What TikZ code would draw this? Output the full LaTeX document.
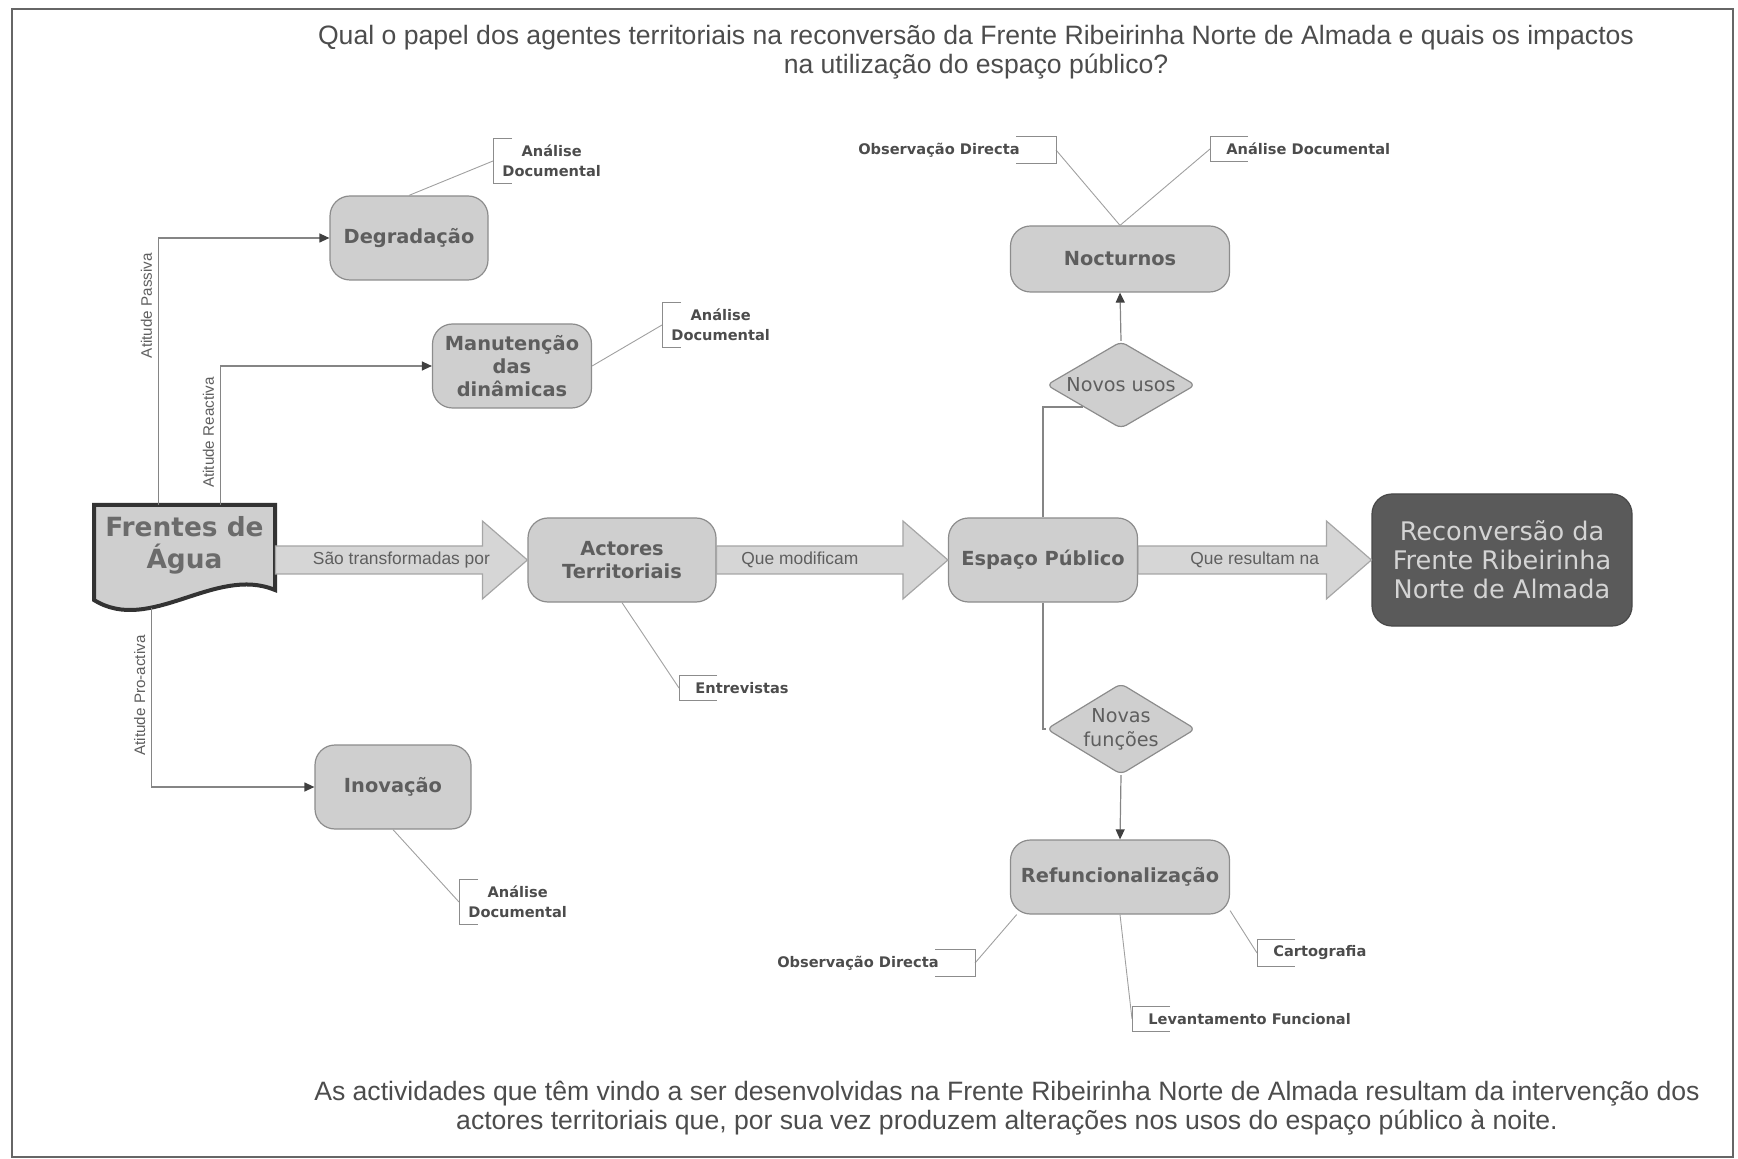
\documentclass[tikz,border=0pt]{standalone}
\usepackage{fontspec}
\setmainfont{Liberation Sans}
\newfontfamily\boxfont{DejaVu Sans}
\usetikzlibrary{shapes.geometric,arrows.meta,calc}

\definecolor{boxfill}{HTML}{CFCFCF}
\definecolor{boxline}{HTML}{8C8C8C}
\definecolor{boxtext}{HTML}{5E5E5E}
\definecolor{arrfill}{HTML}{D6D6D6}
\definecolor{arrline}{HTML}{A6A6A6}
\definecolor{darkbox}{HTML}{5A5A5A}
\definecolor{linkgray}{HTML}{858585}
\definecolor{notegray}{HTML}{A0A0A0}

\tikzset{
  box/.style={rectangle, rounded corners=10pt, draw=boxline, fill=boxfill, line width=0.6pt,
    text=boxtext, align=center, inner sep=2pt, font=\boxfont\bfseries\fontsize{9.7}{11.6}\selectfont},
  choice/.style={diamond, aspect=1.7, rounded corners=3pt, draw=boxline, fill=boxfill, line width=0.6pt,
    text=boxtext, align=center, inner sep=0pt, minimum width=74.5pt, font=\boxfont\fontsize{9.6}{12}\selectfont},
  link/.style={draw=linkgray, line width=0.6pt},
  linktip/.style={-{Triangle[length=5pt,width=4.5pt,color=black!75]}},
  bigarrow/.style={draw=arrline, fill=arrfill, line width=0.6pt},
  arrowtext/.style={font=\fontsize{8.7}{10}\selectfont, text=boxtext},
  attitude/.style={rotate=90, anchor=south, font=\fontsize{7.6}{9}\selectfont, text=boxtext, inner sep=3pt},
  note/.style={font=\boxfont\bfseries\fontsize{7.3}{10}\selectfont, text=black!70, align=center, inner ysep=3pt},
  notel/.style={note, anchor=west, inner xsep=8pt},
  noter/.style={note, anchor=east, inner xsep=18pt},
  noteline/.style={draw=notegray, line width=0.45pt},
  bracket/.style={draw=black!45, line width=0.5pt},
  bigtext/.style={font=\fontsize{13.3}{14.4}\selectfont, text=black!70, align=center},
}

\begin{document}
\begin{tikzpicture}[x=0.5pt, y=-0.5pt]
  \useasboundingbox (0,0) rectangle (1738,1159);
  \draw[black!60, line width=1pt] (12,9) rectangle (1733,1157);

  % question and conclusion
  \node[bigtext] (title) at (976,52)
    {Qual o papel dos agentes territoriais na reconversão da Frente Ribeirinha Norte de Almada e quais os impactos\\na utilização do espaço público?};
  \node[bigtext] (concl) at (1007,1108)
    {As actividades que têm vindo a ser desenvolvidas na Frente Ribeirinha Norte de Almada resultam da intervenção dos\\actores territoriais que, por sua vez produzem alterações nos usos do espaço público à noite.};

  % document shape
  \draw[line width=2pt, draw=black!80, fill=boxfill] (94,505) -- (275,505) -- (275,590)
    .. controls (215,565) and (150,635) .. coordinate[pos=0.67] (fbot) (94,600) -- cycle;
  \node[minimum width=90.5pt, minimum height=40pt, align=center, text=black!58,
    font=\boxfont\bfseries\fontsize{13.2}{16}\selectfont] (frentes) at (184.5,545) {Frentes de\\Água};

  \node[box, minimum width=79pt, minimum height=42pt] (degrad) at (409,238) {Degradação};
  \node[box, minimum width=79.5pt, minimum height=42pt] (manut) at (512,366) {Manutenção\\das\\dinâmicas};
  \node[box, minimum width=78pt, minimum height=42pt] (inov) at (393,787) {Inovação};
  \node[box, minimum width=94pt, minimum height=42pt] (actores) at (622,560) {Actores\\Territoriais};
  \node[box, minimum width=94.5pt, minimum height=42pt] (espaco) at (1043,560) {Espaço Público};
  \node[box, minimum width=130pt, minimum height=66pt, fill=darkbox, draw=darkbox!80!black, text=black!17,
    font=\boxfont\fontsize{12.8}{14.4}\selectfont] (reconv) at (1502,560) {Reconversão da\\Frente Ribeirinha\\Norte de Almada};
  \node[box, minimum width=109.5pt, minimum height=33pt] (noct) at (1120,259) {Nocturnos};
  \node[choice, minimum height=43.5pt] (usos) at (1121,385) {Novos usos};
  \node[choice, minimum height=45.5pt] (funcoes) at (1121,729) {Novas\\funções};
  \node[box, minimum width=109.5pt, minimum height=37pt] (refunc) at (1120,877) {Refuncionalização};

  % attitudes
  \draw[link, linktip] ([xshift=32.5pt]frentes.north west) |- node[attitude, pos=0.373] {Atitude Passiva} (degrad.west);
  \draw[link, linktip] ([xshift=63.5pt]frentes.north west) |- node[attitude, pos=0.26] {Atitude Reactiva} (manut.west);
  \draw[link, linktip] (fbot) |- node[attitude, pos=0.245] {Atitude Pro-activa} (inov.west);

  % main flow
  \draw[bigarrow] ($(frentes.east |- actores.west)+(0,-14)$) -- ($(actores.west)+(-45,-14)$) -- ($(actores.west)+(-45,-39)$)
    -- (actores.west) -- ($(actores.west)+(-45,39)$) -- ($(actores.west)+(-45,14)$) -- ($(frentes.east |- actores.west)+(0,14)$) -- cycle;
  \draw[bigarrow] ($(actores.east)+(0,-14)$) -- ($(espaco.west)+(-45,-14)$) -- ($(espaco.west)+(-45,-39)$)
    -- (espaco.west) -- ($(espaco.west)+(-45,39)$) -- ($(espaco.west)+(-45,14)$) -- ($(actores.east)+(0,14)$) -- cycle;
  \draw[bigarrow] ($(espaco.east)+(0,-14)$) -- ($(reconv.west)+(-45,-14)$) -- ($(reconv.west)+(-45,-39)$)
    -- (reconv.west) -- ($(reconv.west)+(-45,39)$) -- ($(reconv.west)+(-45,14)$) -- ($(espaco.east)+(0,14)$) -- cycle;
  \path (frentes.east |- actores.west) -- node[arrowtext] {São transformadas por} (actores.west);
  \path (actores.east) -- node[arrowtext, pos=0.36] {Que modificam} (espaco.west);
  \path (espaco.east) -- node[arrowtext] {Que resultam na} (reconv.west);

  \draw[link] (espaco.north) |- (usos.south west);
  \draw[link, linktip] (usos.north) -- (noct.south);
  \draw[link] (espaco.south) |- (funcoes.west);
  \draw[link, linktip] (funcoes.south) -- (refunc.north);

  % methods
  \node[notel, inner xsep=4.5pt] (ndeg) at (493,161) {Análise\\Documental};
  \node[notel, inner xsep=4.5pt] (nman) at (662,325) {Análise\\Documental};
  \node[notel, inner xsep=4.5pt] (ninov) at (459,902) {Análise\\Documental};
  \node[notel] (nact) at (679,688) {Entrevistas};
  \node[noter] (nnoc1) at (1056,150) {Observação Directa};
  \node[notel] (nnoc2) at (1210,149) {Análise Documental};
  \node[noter] (nref1) at (975,963) {Observação Directa};
  \node[notel] (nref2) at (1257,953) {Cartografia};
  \node[notel] (nref3) at (1132,1019) {Levantamento Funcional};

  \draw[noteline] (degrad.north) -- (ndeg.west);
  \draw[noteline] (manut.east) -- (nman.west);
  \draw[noteline] (inov.south) -- (ninov.west);
  \draw[noteline] (actores.south) -- (nact.west);
  \draw[noteline] (noct.north) -- (nnoc1.east);
  \draw[noteline] (noct.north) -- (nnoc2.west);
  \draw[noteline] (refunc.200) -- (nref1.east);
  \draw[noteline] (refunc.343) -- (nref2.west);
  \draw[noteline] (refunc.south) -- (nref3.west);

  \foreach \n/\len in {ndeg/9.5, nman/9.5, ninov/9.5, nact/19, nnoc2/19, nref2/19, nref3/19}
    \draw[bracket] ([xshift=\len pt]\n.north west) -- (\n.north west) -- (\n.south west) -- ([xshift=\len pt]\n.south west);
  \foreach \n in {nnoc1, nref1}
    \draw[bracket] ([xshift=-20pt]\n.north east) -- (\n.north east) -- (\n.south east) -- ([xshift=-20pt]\n.south east);
\end{tikzpicture}
\end{document}
